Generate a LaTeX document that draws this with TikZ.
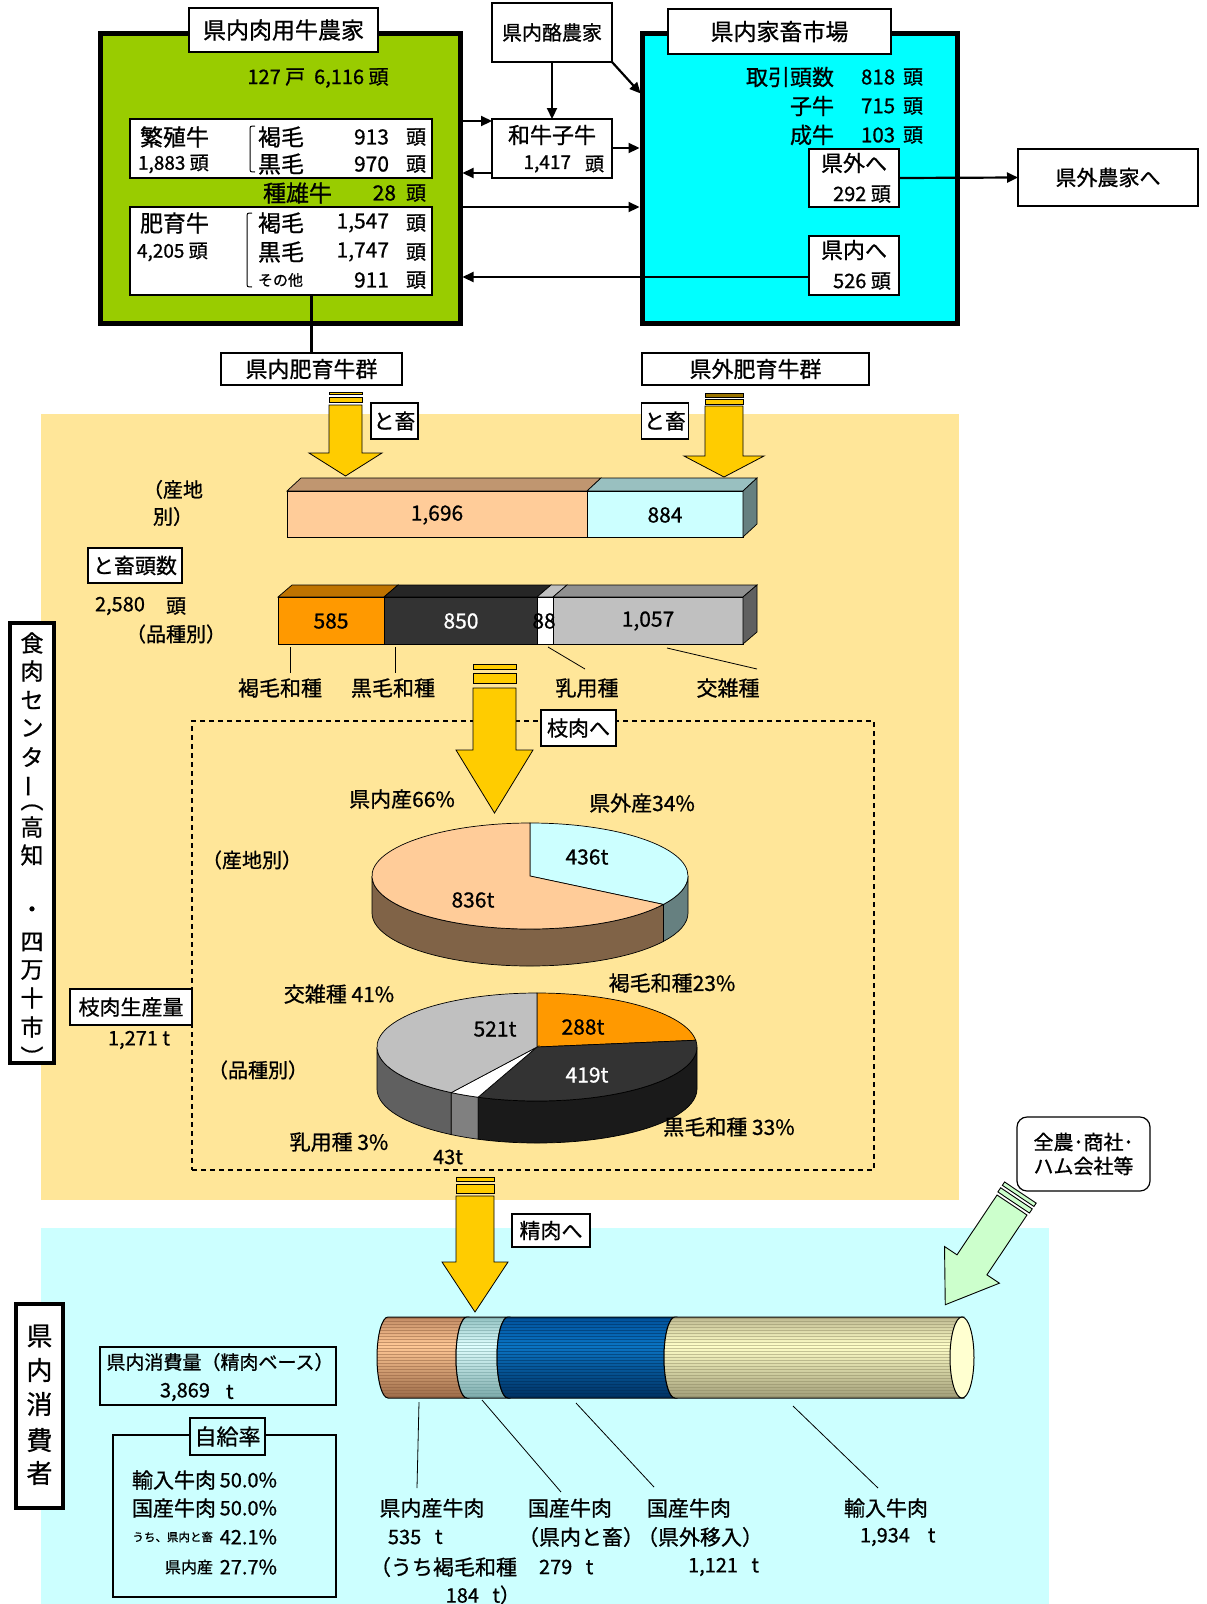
\documentclass[tikz,border=0pt]{standalone}
\usepackage{fontspec}
\setmainfont{Noto Sans CJK JP}[RawFeature={embolden=0.8}]
\usetikzlibrary{arrows.meta}
\definecolor{grn}{HTML}{99CC00}
\definecolor{cyn}{HTML}{00FFFF}
\definecolor{bgor}{HTML}{FFE699}
\definecolor{bgcy}{HTML}{CCFFFF}
\definecolor{yel}{HTML}{FFCC00}
\definecolor{olv}{HTML}{997300}
\definecolor{peach}{HTML}{FFCC99}
\definecolor{peachtop}{HTML}{C09670}
\definecolor{peachside}{HTML}{806347}
\definecolor{lcy}{HTML}{CCFFFF}
\definecolor{lcytop}{HTML}{99C0C0}
\definecolor{lcyside}{HTML}{668080}
\definecolor{org}{HTML}{FF9900}
\definecolor{orgtop}{HTML}{BF7300}
\definecolor{dk}{HTML}{333333}
\definecolor{dktop}{HTML}{262626}
\definecolor{dkside}{HTML}{1A1A1A}
\definecolor{gry}{HTML}{C0C0C0}
\definecolor{grytop}{HTML}{909090}
\definecolor{gryside}{HTML}{606060}
\definecolor{wside}{HTML}{808080}
\definecolor{lgrn}{HTML}{CCFFCC}
\definecolor{cream}{HTML}{FFFFD0}
\definecolor{sAt}{HTML}{C08A64}\definecolor{sAm}{HTML}{FFC896}\definecolor{sAb}{HTML}{9A6A48}\definecolor{sAl}{HTML}{8A5A3A}
\definecolor{sBt}{HTML}{90C0C0}\definecolor{sBm}{HTML}{E0FFFF}\definecolor{sBb}{HTML}{7AA8A8}\definecolor{sBl}{HTML}{6A9898}
\definecolor{sCt}{HTML}{00509A}\definecolor{sCm}{HTML}{0A74C4}\definecolor{sCb}{HTML}{003060}\definecolor{sCl}{HTML}{002850}
\definecolor{sDt}{HTML}{BDB890}\definecolor{sDm}{HTML}{FFFFC8}\definecolor{sDb}{HTML}{A09C78}\definecolor{sDl}{HTML}{8A8660}
\newcommand\fs[1]{\fontsize{#1}{#1}\selectfont}
\begin{document}
\begin{tikzpicture}[x=1pt,y=1pt,yscale=-1,
  tx/.style={inner sep=0,outer sep=0},
  wbox/.style={draw,fill=white,line width=2.2pt,inner sep=0,outer sep=0},
  sbox/.style={draw,fill=white,line width=1.3pt,inner sep=0,outer sep=0},
  arr/.style={line width=2.2pt,-{Triangle[length=11pt,width=10pt]}},
  yarr/.style={draw=black,fill=yel,line width=0.8pt},
  pl/.style={draw=black,line width=0.7pt},
  lead/.style={line width=0.8pt}]
\useasboundingbox (0,0) rectangle (1207,1604);
\fill[white] (0,0) rectangle (1207,1604);
\fill[bgor] (41,414) rectangle (959,1200);
\fill[bgcy] (41,1228) rectangle (1049,1604);

% ---------- top: farms and market
\node[draw,fill=grn,line width=5pt,minimum width=360,minimum height=290,inner sep=0,outer sep=0] (farm) at (280,178) {};
\node[draw,fill=cyn,line width=5pt,minimum width=315,minimum height=290,inner sep=0,outer sep=0] (mkt) at (799.5,178) {};
\node[wbox,minimum width=189,minimum height=44,font=\fs{23}] (farmT) at (283.5,30) {県内肉用牛農家};
\node[wbox,minimum width=223,minimum height=45,font=\fs{23}] (mktT) at (779.5,31.5) {県内家畜市場};
\node[tx,font=\fs{20}] (farmN) at (318,78) {127 戸\ \ 6,116 頭};

\node[wbox,minimum width=302,minimum height=59] (bre) at (281,148.5) {};
\node[tx,anchor=west,font=\fs{23}] (breA) at (140,137) {繁殖牛};
\node[tx,anchor=west,font=\fs{19}] (breB) at (138,164) {1,883 頭};
\draw[line width=1pt] (255,126) .. controls (250,126) .. (250,131) -- (250,167) .. controls (250,172) .. (255,172);
\node[tx,anchor=west,font=\fs{23}] (bre1) at (258,137) {褐毛};
\node[tx,anchor=east,font=\fs{21}] (bre1n) at (389,137) {913};
\node[tx,anchor=west,font=\fs{20}] (bre1u) at (406,137) {頭};
\node[tx,anchor=west,font=\fs{23}] (bre2) at (258,164) {黒毛};
\node[tx,anchor=east,font=\fs{21}] (bre2n) at (389,164) {970};
\node[tx,anchor=west,font=\fs{20}] (bre2u) at (406,164) {頭};
\node[tx,anchor=west,font=\fs{23}] (bull) at (263,193) {種雄牛};
\node[tx,anchor=east,font=\fs{21}] (bulln) at (396,193) {28};
\node[tx,anchor=west,font=\fs{20}] (bullu) at (406,193) {頭};

\node[wbox,minimum width=302,minimum height=88] (fat) at (281,251) {};
\node[tx,anchor=west,font=\fs{23}] (fatA) at (140,223) {肥育牛};
\node[tx,anchor=west,font=\fs{19}] (fatB) at (137,252) {4,205 頭};
\draw[line width=1pt] (252,213) .. controls (247,213) .. (247,218) -- (247,282) .. controls (247,287) .. (252,287);
\node[tx,anchor=west,font=\fs{23}] (fat1) at (258,223) {褐毛};
\node[tx,anchor=east,font=\fs{21}] (fat1n) at (389,223) {1,547};
\node[tx,anchor=west,font=\fs{20}] (fat1u) at (406,223) {頭};
\node[tx,anchor=west,font=\fs{23}] (fat2) at (258,252) {黒毛};
\node[tx,anchor=east,font=\fs{21}] (fat2n) at (389,252) {1,747};
\node[tx,anchor=west,font=\fs{20}] (fat2u) at (406,252) {頭};
\node[tx,anchor=west,font=\fs{15}] (fat3) at (258,280) {その他};
\node[tx,anchor=east,font=\fs{21}] (fat3n) at (389,280) {911};
\node[tx,anchor=west,font=\fs{20}] (fat3u) at (406,280) {頭};

\node[wbox,minimum width=120,minimum height=59,font=\fs{20}] (rak) at (552,32.5) {県内酪農家};
\node[wbox,minimum width=120,minimum height=59] (wagyu) at (552,148.5) {};
\node[tx,font=\fs{22}] (wagyuA) at (552,135) {和牛子牛};
\node[tx,anchor=east,font=\fs{19}] (wagyuB) at (571,164) {1,417};
\node[tx,anchor=west,font=\fs{19}] (wagyuC) at (585,164) {頭};

\node[tx,anchor=east,font=\fs{22}] (m1) at (834,77) {取引頭数};
\node[tx,anchor=west,font=\fs{20.5}] (m1n) at (861,77) {818};
\node[tx,anchor=west,font=\fs{20}] (m1u) at (903,77) {頭};
\node[tx,anchor=east,font=\fs{22}] (m2) at (834,106) {子牛};
\node[tx,anchor=west,font=\fs{20.5}] (m2n) at (861,106) {715};
\node[tx,anchor=west,font=\fs{20}] (m2u) at (903,106) {頭};
\node[tx,anchor=east,font=\fs{22}] (m3) at (834,135) {成牛};
\node[tx,anchor=west,font=\fs{20.5}] (m3n) at (861,135) {103};
\node[tx,anchor=west,font=\fs{20}] (m3u) at (903,135) {頭};

\node[wbox,minimum width=90,minimum height=58] (outb) at (854,178) {};
\node[tx,font=\fs{22}] (outA) at (854,163) {県外へ};
\node[tx,font=\fs{20}] (outB) at (862,194) {292 頭};
\node[wbox,minimum width=90,minimum height=59] (inb) at (854,265.5) {};
\node[tx,font=\fs{22}] (inA) at (854,250) {県内へ};
\node[tx,font=\fs{20}] (inB) at (862,281) {526 頭};
\node[wbox,line width=1.5pt,minimum width=180,minimum height=57,font=\fs{21}] (outf) at (1108,177.5) {県外農家へ};

\draw[arr] (rak.south) -- (wagyu.north);
\draw[arr,shorten >=2pt] (rak.south east) -- (mkt.west |- 0,95);
\draw[arr] (farm.east |- 0,121) -- (wagyu.west |- 0,121);
\draw[arr,shorten >=2.5pt] (wagyu.west |- 0,173) -- (farm.east |- 0,173);
\draw[arr,shorten >=2.5pt] (wagyu.east |- 0,148) -- (mkt.west |- 0,148);
\draw[arr,shorten >=2.5pt] (farm.east |- 0,207) -- (mkt.west |- 0,207);
\draw[arr,shorten >=2.5pt] (inb.west |- 0,277) -- (farm.east |- 0,277);
\draw[arr] (outb.east) -- (outf.west);

\node[wbox,line width=1.8pt,minimum width=181,minimum height=32,font=\fs{22}] (kg) at (311.5,369) {県内肥育牛群};
\node[wbox,line width=1.8pt,minimum width=227,minimum height=32,font=\fs{22}] (gg) at (755.5,369) {県外肥育牛群};
\draw[line width=2.2pt] (kg.north |- fat.south) -- (kg.north);

% ---------- yellow arrows to slaughter
\draw[yarr] (329,392) rectangle (362,394.5);
\draw[yarr] (329,397) rectangle (362,402);
\draw[yarr] (329,405) -- (362,405) -- (362,453) -- (382,453) -- (345.5,476) -- (309,453) -- (329,453) -- cycle;
\draw[yarr,fill=olv] (705,393) rectangle (743,397);
\draw[yarr] (705,399) rectangle (743,404);
\draw[yarr] (705,406) -- (743,406) -- (743,456) -- (764,456) -- (724,477) -- (684,456) -- (705,456) -- cycle;
\node[sbox,minimum width=47,minimum height=36,font=\fs{21}] (to1) at (394.5,421) {と畜};
\node[sbox,minimum width=47,minimum height=36,font=\fs{21}] (to2) at (665,421) {と畜};

% ---------- bar 1 (origin)
\draw[pl,fill=peachtop] (287,491) -- (587,491) -- (601,478) -- (301,478) -- cycle;
\draw[pl,fill=lcytop] (587,491) -- (743,491) -- (757,478) -- (601,478) -- cycle;
\draw[pl,fill=peach] (287,491) rectangle (587,537);
\draw[pl,fill=lcy] (587,491) rectangle (743,537);
\draw[pl,fill=lcyside] (743,491) -- (757,478) -- (757,524) -- (743,537) -- cycle;
\node[tx,font=\fs{21}] (b1a) at (437,515) {1,696};
\node[tx,font=\fs{21}] (b1b) at (665,515) {884};
\node[tx,font=\fs{20},align=center] (b1l) at (173,503) {（産地\\[7pt]別）};

\node[sbox,minimum width=94,minimum height=35,font=\fs{21}] (toh) at (135,565.5) {と畜頭数};
\node[tx,anchor=west,font=\fs{20}] (tohN) at (95,606) {2,580};
\node[tx,anchor=west,font=\fs{20}] (tohU) at (166,606) {頭};
\node[tx,font=\fs{20}] (b2l) at (176,634) {（品種別）};

% ---------- bar 2 (breed)
\draw[pl,fill=orgtop] (278,597) -- (384,597) -- (398,585) -- (292,585) -- cycle;
\draw[pl,fill=dktop] (384,597) -- (537,597) -- (551,585) -- (398,585) -- cycle;
\draw[pl,fill=gry] (537,597) -- (553,597) -- (567,585) -- (551,585) -- cycle;
\draw[pl,fill=grytop] (553,597) -- (743,597) -- (757,585) -- (567,585) -- cycle;
\draw[pl,fill=org] (278,597) rectangle (384,644);
\draw[pl,fill=dk] (384,597) rectangle (537,644);
\draw[pl,fill=white] (537,597) rectangle (553,644);
\draw[pl,fill=gry] (553,597) rectangle (743,644);
\draw[pl,fill=gryside] (743,597) -- (757,585) -- (757,632) -- (743,644) -- cycle;
\node[tx,font=\fs{21}] (b2a) at (331,621) {585};
\node[tx,font=\fs{21},text=white] (b2b) at (461,621) {850};
\node[tx,font=\fs{21}] (b2c) at (544,621) {88};
\node[tx,font=\fs{21}] (b2d) at (648,621) {1,057};
\node[tx,font=\fs{21}] (lb1) at (280,688) {褐毛和種};
\node[tx,font=\fs{21}] (lb2) at (393,688) {黒毛和種};
\node[tx,font=\fs{21}] (lb3) at (587,688) {乳用種};
\node[tx,font=\fs{21}] (lb4) at (728,688) {交雑種};
\draw[lead] (290,647) -- (290,673);
\draw[lead] (395,647) -- (395,673);
\draw[lead] (548,647) -- (585,669);
\draw[lead] (667,648) -- (757,669);

% ---------- carcass section
\node[draw,dash pattern=on 5pt off 4pt,line width=1.1pt,minimum width=682,minimum height=449,inner sep=0] (dbox) at (533,945.5) {};
\draw[yarr] (473,664) rectangle (516,669);
\draw[yarr] (473,673) rectangle (516,683);
\draw[yarr] (473,688) -- (516,688) -- (516,750) -- (533,750) -- (494.5,813) -- (456,750) -- (473,750) -- cycle;
\node[sbox,minimum width=75,minimum height=36,font=\fs{21}] (edaH) at (578.5,728) {枝肉へ};

% pie 1
\begin{scope}[shift={(530,876)},yscale=-1]
\draw[pl,fill=peachside] (180:158pt and 53pt) arc[start angle=180,end angle=327.6,x radius=158pt,y radius=53pt] -- ++(0,-37) arc[start angle=327.6,end angle=180,x radius=158pt,y radius=53pt] -- cycle;
\draw[pl,fill=lcyside] (327.6:158pt and 53pt) arc[start angle=327.6,end angle=360,x radius=158pt,y radius=53pt] -- ++(0,-37) arc[start angle=360,end angle=327.6,x radius=158pt,y radius=53pt] -- cycle;
\draw[pl,fill=lcy] (0,0) -- (90:158pt and 53pt) arc[start angle=90,end angle=-32.4,x radius=158pt,y radius=53pt] -- cycle;
\draw[pl,fill=peach] (0,0) -- (-32.4:158pt and 53pt) arc[start angle=-32.4,end angle=-270,x radius=158pt,y radius=53pt] -- cycle;
\end{scope}
\node[tx,font=\fs{21}] (p1a) at (587,857) {436t};
\node[tx,font=\fs{21}] (p1b) at (473,900) {836t};
\node[tx,font=\fs{21}] (p1c) at (402,799) {県内産66\%};
\node[tx,font=\fs{21}] (p1d) at (642,803) {県外産34\%};
\node[tx,font=\fs{20}] (p1e) at (252,860) {（産地別）};

% pie 2
\begin{scope}[shift={(537,1047)},yscale=-1]
\draw[pl,fill=gryside] (180:160pt and 54pt) arc[start angle=180,end angle=237.6,x radius=160pt,y radius=54pt] -- ++(0,-42) arc[start angle=237.6,end angle=180,x radius=160pt,y radius=54pt] -- cycle;
\draw[pl,fill=wside] (237.6:160pt and 54pt) arc[start angle=237.6,end angle=248.4,x radius=160pt,y radius=54pt] -- ++(0,-42) arc[start angle=248.4,end angle=237.6,x radius=160pt,y radius=54pt] -- cycle;
\draw[pl,fill=dkside] (248.4:160pt and 54pt) arc[start angle=248.4,end angle=360,x radius=160pt,y radius=54pt] -- ++(0,-42) arc[start angle=360,end angle=248.4,x radius=160pt,y radius=54pt] -- cycle;
\draw[pl,fill=org] (0,0) -- (90:160pt and 54pt) arc[start angle=90,end angle=7.2,x radius=160pt,y radius=54pt] -- cycle;
\draw[pl,fill=dk] (0,0) -- (7.2:160pt and 54pt) arc[start angle=7.2,end angle=-111.6,x radius=160pt,y radius=54pt] -- cycle;
\draw[pl,fill=white] (0,0) -- (-111.6:160pt and 54pt) arc[start angle=-111.6,end angle=-122.4,x radius=160pt,y radius=54pt] -- cycle;
\draw[pl,fill=gry] (0,0) -- (-122.4:160pt and 54pt) arc[start angle=-122.4,end angle=-270,x radius=160pt,y radius=54pt] -- cycle;
\end{scope}
\node[tx,font=\fs{21}] (p2a) at (495,1029) {521t};
\node[tx,font=\fs{21}] (p2b) at (583,1027) {288t};
\node[tx,font=\fs{21},text=white] (p2c) at (587,1075) {419t};
\node[tx,font=\fs{21}] (p2d) at (339,994) {交雑種 41\%};
\node[tx,font=\fs{21}] (p2e) at (672,983) {褐毛和種23\%};
\node[tx,font=\fs{21}] (p2f) at (729,1127) {黒毛和種 33\%};
\node[tx,font=\fs{21}] (p2g) at (339,1142) {乳用種 3\%};
\node[tx,font=\fs{20}] (p2h) at (448,1157) {43t};
\node[tx,font=\fs{20}] (p2i) at (258,1070) {（品種別）};
\node[sbox,minimum width=122,minimum height=36,font=\fs{21}] (edaP) at (131,1007) {枝肉生産量};
\node[tx,font=\fs{20}] (edaN) at (139,1040) {1,271 t};

% vertical label: meat center
\node[draw,fill=white,line width=3.5pt,minimum width=44,minimum height=440,inner sep=0] (vbox) at (32,843) {};
\foreach \c/\yy/\r [count=\i] in {食/643/0,肉/671/0,セ/700/0,ン/728/0,タ/757/0,ー/786/90,（/800/-90,高/827/0,知/855/0,・/912/0,四/942/0,万/970/0,十/998/0,市/1027/0,）/1057/-90}
  \node[tx,font=\fs{23},rotate=\r] (vc\i) at (32,\yy) {\c};

% ---------- consumption section
\begin{scope}[shift={(0,1357.5)},yscale=-1]
\foreach \xa/\xb/\ca/\cb/\cc/\cd in {388/467/sAt/sAm/sAb/sAl,467/508/sBt/sBm/sBb/sBl,508/675/sCt/sCm/sCb/sCl,675/962/sDt/sDm/sDb/sDl}{
  \begin{scope}
  \clip (\xa,40.5) arc[start angle=90,end angle=270,x radius=11pt,y radius=40.5pt] -- (\xb,-40.5) arc[start angle=270,end angle=90,x radius=11pt,y radius=40.5pt] -- cycle;
  \shade[top color=\ca,bottom color=\cb] (\xa-12,12) rectangle (\xb+1,41);
  \shade[top color=\cb,bottom color=\cc] (\xa-12,-41) rectangle (\xb+1,12);
  \foreach \yy in {-39,-36,...,39} \draw[\cd,line width=0.6pt,opacity=0.45] (\xa-12,\yy) -- (\xb+1,\yy);
  \end{scope}
  \draw[line width=1pt] (\xa,40.5) arc[start angle=90,end angle=270,x radius=11pt,y radius=40.5pt] -- (\xb,-40.5) arc[start angle=270,end angle=90,x radius=11pt,y radius=40.5pt] -- cycle;
}
\draw[line width=1pt,fill=cream] (962,0) ellipse[x radius=12pt,y radius=40.5pt];
\end{scope}
\draw[yarr] (456,1177) rectangle (494,1181);
\draw[yarr] (456,1184) rectangle (494,1193);
\draw[yarr] (456,1196) -- (494,1196) -- (494,1262) -- (508,1262) -- (475,1312) -- (442,1262) -- (456,1262) -- cycle;
\node[sbox,minimum width=78,minimum height=33,font=\fs{21}] (seiH) at (551,1230.5) {精肉へ};

% green arrow
\begin{scope}[shift={(1012,1205)},yscale=-1,rotate=236.2]
\draw[draw=black,fill=lgrn,line width=0.9pt] (-15,-19) rectangle (-11,19);
\draw[draw=black,fill=lgrn,line width=0.9pt] (-8,-19) rectangle (-3,19);
\draw[draw=black,fill=lgrn,line width=0.9pt] (0,18) -- (72,18) -- (72,33) -- (120,0) -- (72,-33) -- (72,-18) -- (0,-18) -- cycle;
\end{scope}
\node[draw,fill=white,line width=1.2pt,rounded corners=10pt,minimum width=133,minimum height=74,inner sep=0,font=\fs{20},align=left] (zen) at (1083.5,1154) {全農･商社･\\[4pt]ハム会社等};

% cylinder labels
\coordinate (c1) at (419,1402);
\coordinate (c2) at (482,1400);
\coordinate (c3) at (576,1403);
\coordinate (c4) at (793,1406);
\node[tx,font=\fs{21}] (k1) at (432,1508) {県内産牛肉};
\node[tx,anchor=west,font=\fs{20}] (k1n) at (388,1537) {535};
\node[tx,anchor=west,font=\fs{20}] (k1u) at (435,1537) {t};
\node[tx,anchor=west,font=\fs{21}] (k1c) at (370,1567) {（うち褐毛和種};
\node[tx,anchor=east,font=\fs{20}] (k1d) at (520,1595) {184\ \ \ t）};
\node[tx,anchor=west,font=\fs{21}] (k2) at (528,1508) {国産牛肉};
\node[tx,anchor=west,font=\fs{21}] (k2b) at (518,1537) {（県内と畜）};
\node[tx,anchor=west,font=\fs{20}] (k2n) at (539,1567) {279\ \ \ t};
\node[tx,anchor=west,font=\fs{21}] (k3) at (647,1508) {国産牛肉};
\node[tx,anchor=west,font=\fs{21}] (k3b) at (637,1537) {（県外移入）};
\node[tx,anchor=east,font=\fs{20}] (k3n) at (759,1567) {1,121\ \ \ t};
\node[tx,anchor=west,font=\fs{21}] (k4) at (844,1508) {輸入牛肉};
\node[tx,anchor=west,font=\fs{20}] (k4n) at (860,1537) {1,934\ \ \ \ t};
\draw[lead] (c1) -- (417,1488);
\draw[lead] (c2) -- (561,1492);
\draw[lead] (c3) -- (654,1487);
\draw[lead] (c4) -- (878,1488);

% consumption boxes
\node[draw,fill=bgcy,line width=2.2pt,minimum width=236,minimum height=58,inner sep=0] (cons) at (218,1376) {};
\node[tx,font=\fs{19}] (consA) at (220,1362) {県内消費量（精肉ベース）};
\node[tx,anchor=west,font=\fs{20}] (consB) at (160,1392) {3,869};
\node[tx,anchor=west,font=\fs{20}] (consC) at (226,1392) {t};
\node[draw,line width=1.2pt,minimum width=223,minimum height=162,inner sep=0] (self) at (224.5,1516) {};
\node[draw,fill=bgcy,line width=1.2pt,minimum width=75,minimum height=37,inner sep=0,font=\fs{22}] (selfT) at (227.5,1436.5) {自給率};
\node[tx,anchor=west,font=\fs{21}] (s1) at (132,1480) {輸入牛肉};
\node[tx,anchor=east,font=\fs{20}] (s1n) at (277,1480) {50.0\%};
\node[tx,anchor=west,font=\fs{21}] (s2) at (132,1508) {国産牛肉};
\node[tx,anchor=east,font=\fs{20}] (s2n) at (277,1508) {50.0\%};
\node[tx,anchor=east,font=\fs{11.5}] (s3) at (213,1537) {うち、県内と畜};
\node[tx,anchor=east,font=\fs{20}] (s3n) at (277,1537) {42.1\%};
\node[tx,anchor=east,font=\fs{16}] (s4) at (213,1567) {県内産};
\node[tx,anchor=east,font=\fs{20}] (s4n) at (277,1567) {27.7\%};

% vertical label: consumers
\node[draw,fill=white,line width=3.5pt,minimum width=47,minimum height=204,inner sep=0] (cbox) at (39.5,1406) {};
\foreach \c/\yy [count=\i] in {県/1336,内/1370,消/1404,費/1440,者/1473}
  \node[tx,font=\fs{26}] (cc\i) at (39.5,\yy) {\c};
\end{tikzpicture}
\end{document}
